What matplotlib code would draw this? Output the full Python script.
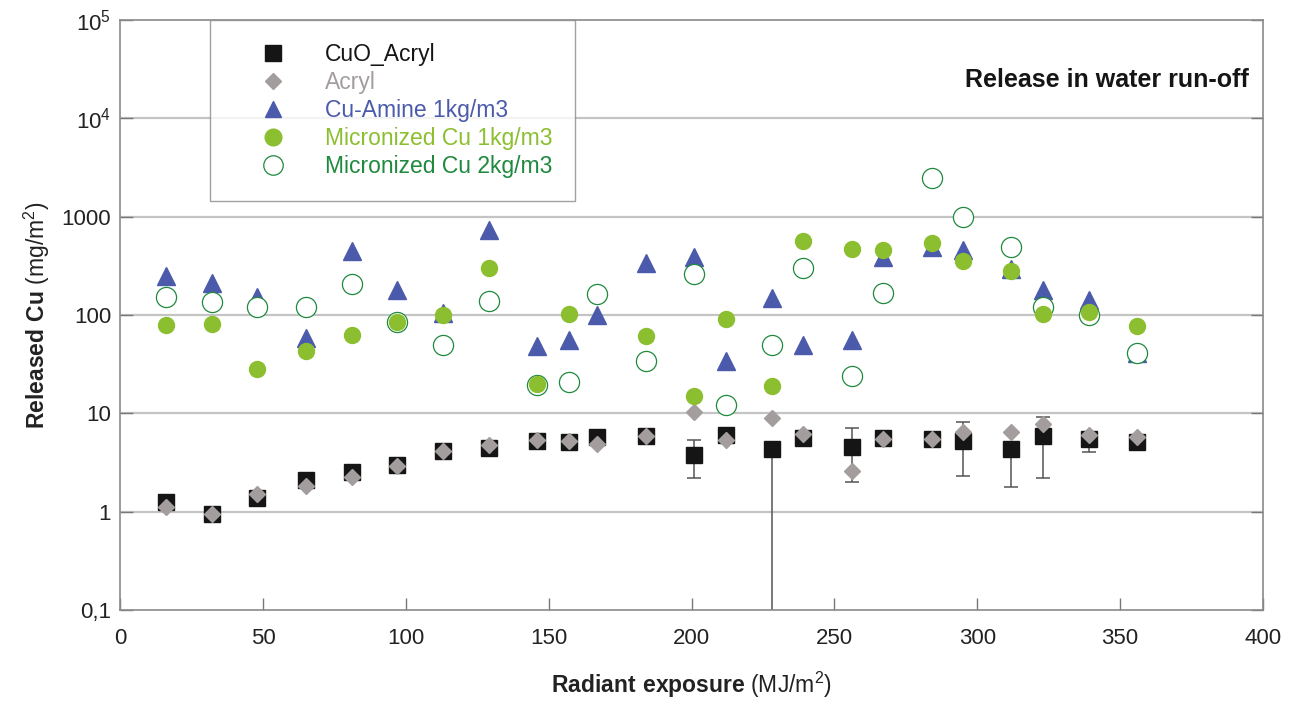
import matplotlib
matplotlib.use("Agg")
import matplotlib.pyplot as plt
from matplotlib.lines import Line2D
from matplotlib.ticker import FixedLocator, FixedFormatter, NullLocator

plt.rcParams['font.family'] = ['Liberation Sans', 'DejaVu Sans']
plt.rcParams['mathtext.fontset'] = 'custom'
plt.rcParams['mathtext.rm'] = 'Liberation Sans'
plt.rcParams['mathtext.bf'] = 'Liberation Sans:bold'

# radiant exposure (MJ/m2)
x = [16, 32, 48, 65, 81, 97, 113, 129, 146, 157, 167, 184, 201, 212, 228,
     239, 256, 267, 284, 295, 312, 323, 339, 356]

cuo_acryl = [1.24, 0.95, 1.38, 2.08, 2.5, 3.0, 4.1, 4.4, 5.2, 5.1, 5.7, 5.9,
             3.8, 6.0, 4.3, 5.6, 4.5, 5.6, 5.5, 5.2, 4.3, 5.9, 5.5, 5.1]
# lower / upper ends of the error bars (same as value = no bar)
cuo_low = [1.24, 0.95, 1.38, 2.08, 2.5, 3.0, 4.1, 4.4, 5.2, 5.1, 5.7, 5.9,
           2.2, 6.0, 0.001, 4.6, 2.0, 5.6, 5.5, 2.3, 1.76, 2.2, 4.0, 5.1]
cuo_high = [1.24, 0.95, 1.38, 2.08, 2.5, 3.0, 4.1, 4.4, 5.2, 5.1, 5.7, 5.9,
            5.3, 6.0, 4.3, 6.6, 7.0, 5.6, 5.5, 8.2, 4.3, 9.2, 5.5, 5.1]

acryl = [1.12, 0.95, 1.5, 1.8, 2.23, 2.9, 4.1, 4.75, 5.3, 5.2, 4.9, 5.9,
         10.4, 5.35, 9.0, 6.2, 2.6, 5.5, 5.5, 6.5, 6.5, 7.8, 6.0, 5.7]

cu_amine = [251, 213, 152, 58, 443, 180, 105, 730, 48, 55, 100, 340, 385, 34,
            150, 50, 55, 385, 490, 455, 290, 180, 142, 41]

mic1_x = [16, 32, 48, 65, 81, 97, 113, 129, 146, 157, 184, 201, 212, 228,
          239, 256, 267, 284, 295, 312, 323, 339, 356]
mic1 = [79, 81, 28, 43, 62, 85, 100, 302, 19.7, 102, 61, 15, 91, 19, 560,
        463, 453, 535, 350, 280, 102, 107, 77]

mic2 = [152, 135, 120, 120, 208, 85, 49, 139, 19.5, 21, 164, 34, 258, 12, 49,
        297, 24, 168, 2480, 1000, 490, 121, 100, 41]

labels = ['CuO_Acryl', 'Acryl', 'Cu-Amine 1kg/m3', 'Micronized Cu 1kg/m3',
          'Micronized Cu 2kg/m3']

c_black = '#151515'
c_gray = '#a39d9d'
c_blue = '#4b5aab'
c_lime = '#8cbf30'
c_green = '#1f8a3e'

fig = plt.figure(figsize=(13.06, 7.01), dpi=100)
ax = fig.add_axes([0.092, 0.13, 0.875, 0.8415])

ax.set_yscale('log')
ax.set_xlim(0, 400)
ax.set_ylim(0.1, 1e5)

for yv in [1, 10, 100, 1000, 1e4]:
    ax.axhline(yv, color='#c4c4c4', lw=1.6, zorder=0)

err_lo = [v - l for v, l in zip(cuo_acryl, cuo_low)]
err_hi = [h - v for v, h in zip(cuo_acryl, cuo_high)]
ax.errorbar(x, cuo_acryl, yerr=[err_lo, err_hi], fmt='none', ecolor='#555555',
            elinewidth=1.1, capsize=5, capthick=1.1, zorder=2)

ax.plot(x, cuo_acryl, ls='none', marker='s', ms=12, color=c_black, zorder=3)
ax.plot(x, acryl, ls='none', marker='D', ms=8.5, color=c_gray, zorder=4)
ax.plot(x, cu_amine, ls='none', marker='^', ms=13, color=c_blue, zorder=5)
ax.plot(x, mic2, ls='none', marker='o', ms=14.5, mfc='white', mec=c_green,
        mew=0.9, zorder=6)
ax.plot(mic1_x, mic1, ls='none', marker='o', ms=11.5, color=c_lime, zorder=7)

ax.yaxis.set_major_locator(FixedLocator([0.1, 1, 10, 100, 1000, 1e4, 1e5]))
ax.yaxis.set_major_formatter(FixedFormatter(['0,1', '1', '10', '100', '1000',
                                             '$10^4$', '$10^5$']))
ax.yaxis.set_minor_locator(NullLocator())
ax.set_xticks(range(0, 401, 50))

ax.tick_params(axis='both', direction='in', labelsize=16, colors='#777777',
               labelcolor='#222222', length=9, width=1, top=False, right=True)
ax.tick_params(axis='x', pad=13)
ax.tick_params(axis='y', pad=6.5)
for sp in ax.spines.values():
    sp.set_color('#8a8a8a')
    sp.set_linewidth(1.2)

ax.set_xlabel(r'$\mathbf{Radiant\ exposure}$ (MJ/m$^2$)', fontsize=16.5,
              color='#222222', labelpad=15)
ax.set_ylabel(r'$\mathbf{Released\ Cu}$ (mg/m$^2$)', fontsize=16.5,
              color='#222222', labelpad=7)

ax.text(0.988, 0.898, 'Release in water run-off', transform=ax.transAxes,
        ha='right', va='center', fontsize=18, fontweight='bold',
        color='#151515')

handles = [
    Line2D([], [], ls='none', marker='s', ms=11.5, color=c_black),
    Line2D([], [], ls='none', marker='D', ms=8.5, color=c_gray),
    Line2D([], [], ls='none', marker='^', ms=12, color=c_blue),
    Line2D([], [], ls='none', marker='o', ms=12, color=c_lime),
    Line2D([], [], ls='none', marker='o', ms=14, mfc='white', mec=c_green,
           mew=0.9),
]
leg = ax.legend(handles, labels, loc='upper left', bbox_to_anchor=(0.079, 1.0),
                fontsize=16.5, frameon=True, fancybox=False, edgecolor='#8a8a8a',
                labelspacing=0.22, handletextpad=0.5, borderpad=1.0,
                borderaxespad=0, handlelength=3.5)
leg.get_frame().set_linewidth(1.0)
for t, c in zip(leg.get_texts(), [c_black, c_gray, c_blue, c_lime, c_green]):
    t.set_color(c)
leg.set_zorder(10)

fig.savefig('out.png', dpi=100, facecolor='white')
